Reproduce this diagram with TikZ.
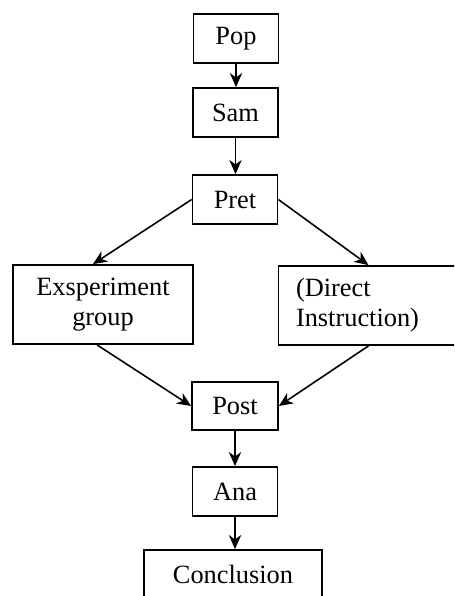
\documentclass[tikz,border=0pt]{standalone}
\usepackage{fontspec}
\setmainfont{Liberation Serif}
\usetikzlibrary{calc}
\usetikzlibrary{arrows.meta}

\tikzset{
  box/.style={draw=black,line width=1pt,minimum width=1.7cm,minimum height=0.98cm,inner sep=2pt,font=\fontsize{15}{17}\selectfont},
  widebox/.style={box,minimum width=3.6cm,minimum height=1.58cm,text width=3.1cm},
  flow/.style={black,line width=0.9pt,-{Stealth[length=8pt,width=7pt,inset=2.5pt]}}
}

\begin{document}
\begin{tikzpicture}

\clip (0,0) rectangle (9.08,-11.92);
\useasboundingbox (0,0) rectangle (9.08,-11.92);

\node[box] (pop) at (4.72,-0.77) {Pop};
\node[box] (sam) at (4.71,-2.25) {Sam};
\node[box] (pret) at (4.70,-3.99) {Pret};
\node[widebox,align=center] (exp) at (2.06,-6.09) {Exsperiment\\group};
\node[widebox,align=left,text width=2.9cm] (dir) at (7.37,-6.11) {(Direct\\Instruction)};
\node[box,minimum width=1.72cm,minimum height=0.96cm] (post) at (4.70,-8.12) {Post};
\node[box] (ana) at (4.70,-9.83) {Ana};
\node[box,minimum width=3.56cm] (concl) at (4.66,-11.49) {Conclusion};

\draw[flow] (pop.south)--(pop.south |- sam.north);
\draw[flow] (sam.south)--(sam.south |- pret.north);
\draw[flow] (pret.west)--($(exp.north)+(-0.2,0)$);
\draw[flow] (pret.east)--(dir.north);
\draw[flow] ($(exp.south)+(-0.12,0)$)--(post.west);
\draw[flow] (dir.south)--(post.east);
\draw[flow] (post)--(ana);
\draw[flow] (ana.south)--(ana.south |- concl.north);

\end{tikzpicture}
\end{document}
